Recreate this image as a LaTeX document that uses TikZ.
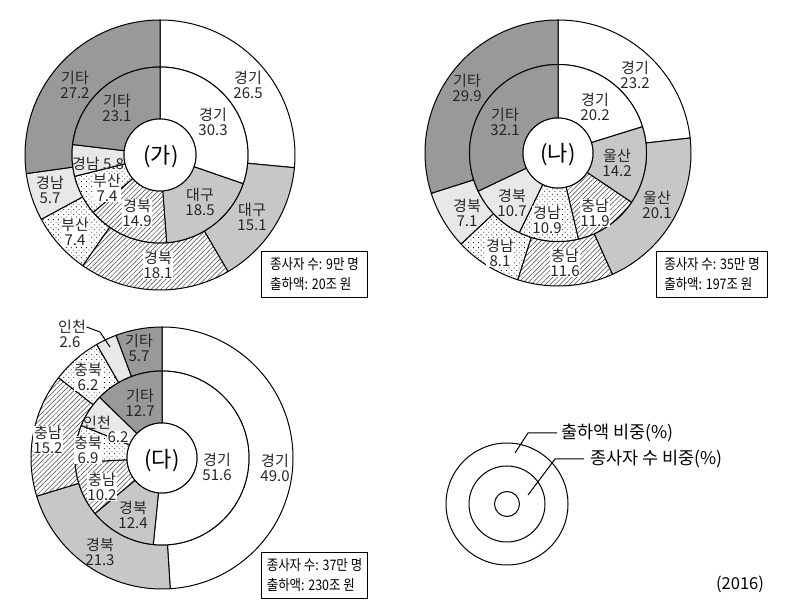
\documentclass[tikz,border=0pt]{standalone}
\usepackage{fontspec}
\setmainfont{Noto Sans CJK KR}
\newfontfamily\boxfont[FakeStretch=0.86]{Noto Sans CJK KR}
\usetikzlibrary{patterns.meta}
\definecolor{dkg}{gray}{0.6}
\definecolor{mdg}{gray}{0.78}
\definecolor{ltg}{gray}{0.91}
\tikzset{
  segline/.style={draw=black, line width=1pt, line join=round},
  cwhite/.style={segline, fill=white},
  cdark/.style={segline, fill=dkg},
  cmid/.style={segline, fill=mdg},
  clight/.style={segline, fill=ltg},
  chatch/.style={segline, preaction={fill=white}, pattern={Lines[angle=45,distance=3.4pt,line width=0.5pt]}, pattern color=black!75},
  cdots/.style={segline, preaction={fill=white}, pattern={Dots[angle=45,distance=3.6pt,radius=0.55pt]}, pattern color=black},
  lbl/.style={font=\fontsize{15}{15}\selectfont, align=center, inner sep=0.5pt, text=black!85},
  lblw/.style={lbl, fill=white},
  box/.style={draw, line width=1pt, font=\boxfont\fontsize{14.5}{20}\selectfont, align=left, inner xsep=4pt, inner ysep=3pt, minimum height=46pt, anchor=north west},
  title/.style={font=\fontsize{22}{24}\selectfont},
  legtxt/.style={font=\fontsize{17.5}{20}\selectfont, anchor=west, inner sep=0pt},
  leader/.style={draw=black, line width=1pt}
}
\newcommand\ringseg[6]{\path[shift={(#1)},#6] ({90-3.6*(#4)}:#3) arc[start angle={90-3.6*(#4)}, end angle={90-3.6*(#5)}, radius=#3] -- ({90-3.6*(#5)}:#2) arc[start angle={90-3.6*(#5)}, end angle={90-3.6*(#4)}, radius=#2] -- cycle;}
\begin{document}
\begin{tikzpicture}[x=1pt,y=1pt]
\fill[white] (0,0) rectangle (786,604);
\useasboundingbox (0,0) rectangle (786,604);
\coordinate (ga) at (160,449);
\coordinate (na) at (558,451);
\coordinate (da) at (162,146);
\coordinate (lg) at (507,100);
% ---------------- (가)
\ringseg{ga}{88}{135}{0}{26.5}{cwhite}
\ringseg{ga}{88}{135}{26.5}{41.6}{cmid}
\ringseg{ga}{88}{135}{41.6}{59.7}{chatch}
\ringseg{ga}{88}{135}{59.7}{67.1}{cdots}
\ringseg{ga}{88}{135}{67.1}{72.8}{clight}
\ringseg{ga}{88}{135}{72.8}{100}{cdark}
\ringseg{ga}{36}{88}{0}{30.3}{cwhite}
\ringseg{ga}{36}{88}{30.3}{48.8}{cmid}
\ringseg{ga}{36}{88}{48.8}{63.7}{chatch}
\ringseg{ga}{36}{88}{63.7}{71.1}{cdots}
\ringseg{ga}{36}{88}{71.1}{76.9}{clight}
\ringseg{ga}{36}{88}{76.9}{100}{cdark}
\draw[segline, fill=white] (ga) circle[radius=36];
\node[title] (ga-t) at (161,447) {(가)};
\node[lbl] (ga-o1) at (248,519) {경기\\26.5};
\node[lbl] (ga-i1) at (213,482) {경기\\30.3};
\node[lbl] (ga-o6) at (75,519) {기타\\27.2};
\node[lbl] (ga-i6) at (117,496) {기타\\23.1};
\node[lbl] (ga-i5) at (98,440) {경남 5.8};
\node[lblw] (ga-i4) at (107,416) {부산\\7.4};
\node[lblw] (ga-i3) at (137,391) {경북\\14.9};
\node[lbl] (ga-i2) at (200,402) {대구\\18.5};
\node[lbl] (ga-o2) at (252,387) {대구\\15.1};
\node[lblw] (ga-o3) at (158,339) {경북\\18.1};
\node[lblw] (ga-o4) at (75,372) {부산\\7.4};
\node[lbl] (ga-o5) at (50,414) {경남\\5.7};
\node[box, minimum width=106pt] (ga-box) at (261,353) {종사자 수: 9만 명\\출하액: 20조 원};
% ---------------- (나)
\ringseg{na}{88.5}{133}{0}{23.2}{cwhite}
\ringseg{na}{88.5}{133}{23.2}{43.3}{cmid}
\ringseg{na}{88.5}{133}{43.3}{54.9}{chatch}
\ringseg{na}{88.5}{133}{54.9}{63.0}{cdots}
\ringseg{na}{88.5}{133}{63.0}{70.1}{clight}
\ringseg{na}{88.5}{133}{70.1}{100}{cdark}
\ringseg{na}{35}{88.5}{0}{20.2}{cwhite}
\ringseg{na}{35}{88.5}{20.2}{34.4}{cmid}
\ringseg{na}{35}{88.5}{34.4}{46.3}{chatch}
\ringseg{na}{35}{88.5}{46.3}{57.2}{cdots}
\ringseg{na}{35}{88.5}{57.2}{67.9}{clight}
\ringseg{na}{35}{88.5}{67.9}{100}{cdark}
\draw[segline, fill=white] (na) circle[radius=35];
\node[title] (na-t) at (558,449) {(나)};
\node[lbl] (na-o1) at (635,529) {경기\\23.2};
\node[lbl] (na-i1) at (595,497) {경기\\20.2};
\node[lbl] (na-o6) at (467,516) {기타\\29.9};
\node[lbl] (na-i6) at (505,482) {기타\\32.1};
\node[lbl] (na-i2) at (617,441) {울산\\14.2};
\node[lbl] (na-o2) at (657,399) {울산\\20.1};
\node[lblw] (na-i3) at (595,391) {충남\\11.9};
\node[lblw] (na-i4) at (547,384) {경남\\10.9};
\node[lbl] (na-i5) at (512,401) {경북\\10.7};
\node[lbl] (na-o5) at (467,391) {경북\\7.1};
\node[lblw] (na-o4) at (500,351) {경남\\8.1};
\node[lblw] (na-o3) at (565,341) {충남\\11.6};
\node[box, minimum width=111pt] (na-box) at (656,353) {종사자 수: 35만 명\\출하액: 197조 원};
% ---------------- (다)
\ringseg{da}{87}{131}{0}{49.0}{cwhite}
\ringseg{da}{87}{131}{49.0}{70.3}{cmid}
\ringseg{da}{87}{131}{70.3}{85.5}{chatch}
\ringseg{da}{87}{131}{85.5}{91.7}{cdots}
\ringseg{da}{87}{131}{91.7}{94.3}{clight}
\ringseg{da}{87}{131}{94.3}{100}{cdark}
\ringseg{da}{35}{87}{0}{51.6}{cwhite}
\ringseg{da}{35}{87}{51.6}{64.0}{cmid}
\ringseg{da}{35}{87}{64.0}{74.2}{chatch}
\ringseg{da}{35}{87}{74.2}{81.1}{cdots}
\ringseg{da}{35}{87}{81.1}{87.3}{clight}
\ringseg{da}{35}{87}{87.3}{100}{cdark}
\draw[segline, fill=white] (da) circle[radius=35];
\node[title] (da-t) at (162,143) {(다)};
\node[lbl] (da-o1) at (275,136) {경기\\49.0};
\node[lbl] (da-i1) at (217,137) {경기\\51.6};
\node[lbl] (da-o6) at (139,256) {기타\\5.7};
\node[lbl] (da-i6) at (140,201) {기타\\12.7};
\node[lbl] (da-o5a) at (72,277) {인천};
\node[lbl] (da-o5b) at (70,262) {2.6};
\node[lblw] (da-o4) at (88,227) {충북\\6.2};
\node[lblw] (da-o3) at (48,164) {충남\\15.2};
\node[lbl] (da-o2) at (100,52) {경북\\21.3};
\node[lbl] (da-i2) at (133,89) {경북\\12.4};
\node[lblw] (da-i3) at (102,117) {충남\\10.2};
\node[lblw] (da-i4) at (88,154) {충북\\6.9};
\node[lbl] (da-i5a) at (97,181) {인천};
\node[lblw] (da-i5b) at (118,167) {6.2};
\coordinate (da-p1) at (100,272);
\coordinate (da-p2) at (110,257);
\draw[leader] (da-o5a.east) -- (da-p1) -- (da-p2);
\node[box, minimum width=106pt] (da-box) at (261,52) {종사자 수: 37만 명\\출하액: 230조 원};
% ---------------- legend
\draw[segline] (lg) circle[radius=61];
\draw[segline] (lg) circle[radius=38];
\draw[segline] (lg) circle[radius=12.5];
\node[legtxt] (lg-t1) at (561,171) {출하액 비중(\%)};
\node[legtxt] (lg-t2) at (590,145) {종사자 수 비중(\%)};
\coordinate (lg-a1) at (515,151);
\coordinate (lg-b1) at (528,171);
\coordinate (lg-a2) at (528,109);
\coordinate (lg-b2) at (555,145);
\draw[leader] (lg-a1) -- (lg-b1) -- ([xshift=-4pt]lg-t1.west);
\draw[leader] (lg-a2) -- (lg-b2) -- ([xshift=-6pt]lg-t2.west);
\node[font=\fontsize{16.5}{18}\selectfont] (yr) at (740,20) {(2016)};
\end{tikzpicture}
\end{document}
